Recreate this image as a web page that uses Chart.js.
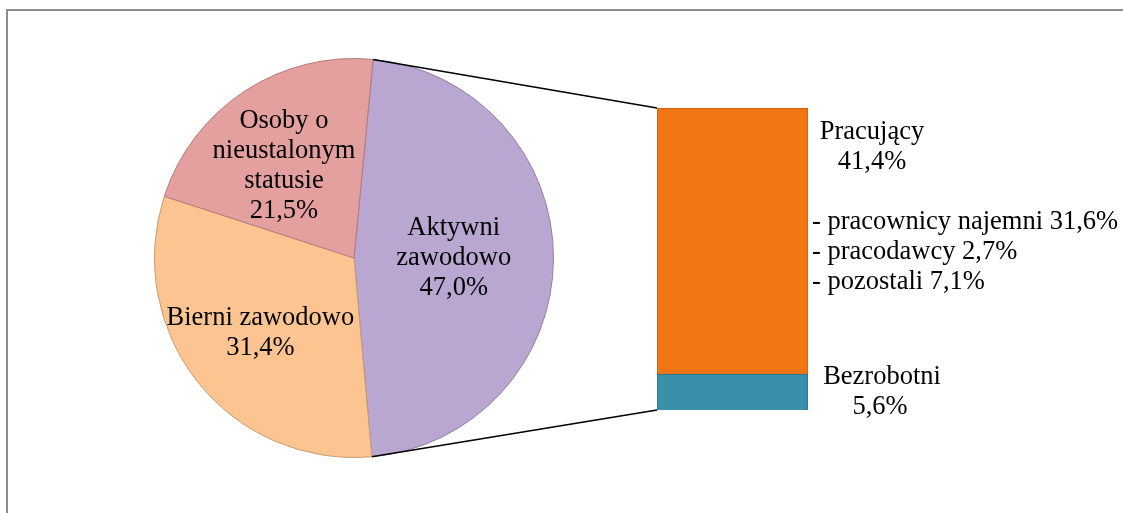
<!DOCTYPE html>
<html>
<head>
<meta charset="utf-8">
<script src="https://cdn.jsdelivr.net/npm/chart.js@4"></script>
<style>
  body { margin: 0; background: #fff; }
  #wrap { position: relative; width: 1123px; height: 513px; overflow: hidden; }
  #frame { position: absolute; left: 6px; top: 9px; width: 1300px; height: 700px; border: 2px solid #8c8c8c; }
  canvas { position: absolute; left: 0; top: 0; }
</style>
</head>
<body>
<div id="wrap">
  <div id="frame"></div>
  <canvas id="pie" width="1123" height="513"></canvas>
  <canvas id="bar" width="1123" height="513"></canvas>
</div>
<script>
// pie: population by economic activity (%)
const pieLabels = [["Aktywni", "zawodowo"], ["Bierni zawodowo"], ["Osoby o", "nieustalonym", "statusie"]];
const pieValues = [47.0, 31.4, 21.5];
const pieColors = ["#B9A7D1", "#FCC490", "#E3A09F"];

// bar: split of the economically active (%)
const barLabels = ["Bezrobotni", "Pracujący"];
const barValues = [5.6, 41.4];
const barColors = ["#3A90AA", "#F17613"];
const workerLines = ["- pracownicy najemni 31,6%", "- pracodawcy 2,7%", "- pozostali 7,1%"];

const FONT = "26.5px 'Liberation Serif', 'Times New Roman', serif";
const LINE = 30;
const fmt = (v) => v.toFixed(1).replace(".", ",") + "%";

const pieText = {
  id: "pieText",
  afterDatasetsDraw(chart) {
    const ctx = chart.ctx;
    const arcs = chart.getDatasetMeta(0).data;
    const dist = [0.5, 0.6, 0.58];
    const turn = [0, 0, -0.07];
    ctx.save();
    ctx.font = FONT;
    ctx.fillStyle = "#000";
    ctx.textAlign = "center";
    ctx.textBaseline = "middle";
    arcs.forEach((a, i) => {
      const mid = (a.startAngle + a.endAngle) / 2 + turn[i];
      const r = a.outerRadius * dist[i];
      const x = a.x + Math.cos(mid) * r;
      const y = a.y + Math.sin(mid) * r;
      const lines = [...pieLabels[i], fmt(pieValues[i])];
      const y0 = y - ((lines.length - 1) * LINE) / 2;
      lines.forEach((t, j) => ctx.fillText(t, x, y0 + j * LINE));
    });
    ctx.restore();
  },
};

const pieChart = new Chart(document.getElementById("pie"), {
  type: "pie",
  data: {
    labels: pieLabels.map((l) => l.join(" ")),
    datasets: [{
      data: pieValues,
      backgroundColor: pieColors,
      borderColor: ["#8f7fa8", "#c99a6c", "#b57b7a"],
      borderWidth: 1,
    }],
  },
  options: {
    responsive: false,
    animation: false,
    rotation: 5.5,
    layout: { padding: { left: 153, right: 568, top: 58, bottom: 55 } },
    plugins: { legend: { display: false }, tooltip: { enabled: false } },
  },
  plugins: [pieText],
});

const barExtras = {
  id: "barExtras",
  afterDatasetsDraw(chart) {
    const ctx = chart.ctx;
    const low = chart.getDatasetMeta(0).data[0];
    const high = chart.getDatasetMeta(1).data[0];
    const left = low.x - low.width / 2;
    const right = low.x + low.width / 2;

    // connector lines from the pie's "Aktywni" slice to the bar
    const a = pieChart.getDatasetMeta(0).data[0];
    ctx.save();
    ctx.strokeStyle = "#000";
    ctx.lineWidth = 1.5;
    ctx.beginPath();
    ctx.moveTo(a.x + Math.cos(a.startAngle) * a.outerRadius, a.y + Math.sin(a.startAngle) * a.outerRadius);
    ctx.lineTo(left, high.y);
    ctx.moveTo(a.x + Math.cos(a.endAngle) * a.outerRadius, a.y + Math.sin(a.endAngle) * a.outerRadius);
    ctx.lineTo(left, low.base);
    ctx.stroke();

    ctx.font = FONT;
    ctx.fillStyle = "#000";
    ctx.textBaseline = "middle";
    ctx.textAlign = "center";
    // Pracujący block
    const cx = right + 64;
    let y = high.y + 24;
    ctx.fillText(barLabels[1], cx, y);
    ctx.fillText(fmt(barValues[1]), cx, y + LINE);
    ctx.textAlign = "left";
    workerLines.forEach((t, j) => ctx.fillText(t, right + 4, y + (j + 3) * LINE));
    // Bezrobotni block
    ctx.textAlign = "center";
    const my = (low.y + low.base) / 2;
    ctx.fillText(barLabels[0], right + 74, my - LINE / 2);
    ctx.fillText(fmt(barValues[0]), right + 72, my + LINE / 2);
    ctx.restore();
  },
};

new Chart(document.getElementById("bar"), {
  type: "bar",
  data: {
    labels: [""],
    datasets: barLabels.map((l, i) => ({
      label: l,
      data: [barValues[i]],
      backgroundColor: barColors[i],
      borderColor: ["#2a6f85", "#c25e0c"][i],
      borderWidth: 1,
      barPercentage: 1,
      categoryPercentage: 1,
    })),
  },
  options: {
    responsive: false,
    animation: false,
    layout: { padding: { left: 657, right: 315, top: 108, bottom: 103 } },
    scales: {
      x: { display: false, stacked: true },
      y: { display: false, stacked: true, min: 0, max: 47.0 },
    },
    plugins: { legend: { display: false }, tooltip: { enabled: false } },
  },
  plugins: [barExtras],
});
</script>
</body>
</html>
